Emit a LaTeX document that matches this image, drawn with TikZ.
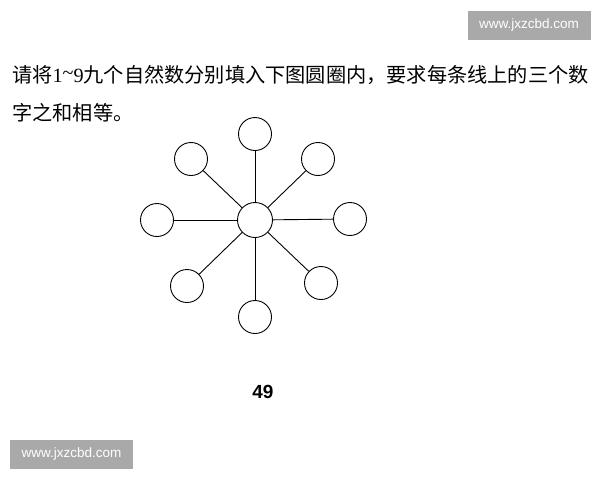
\documentclass[tikz,border=0pt]{standalone}
\usepackage{fontspec}
\setmainfont{Liberation Serif}
\newfontfamily\cjk{Noto Sans CJK SC}
\newfontfamily\wmfont{Liberation Sans}
\definecolor{wmgray}{HTML}{A9A9A9}
\tikzset{
  x=1pt, y=-1pt,
  ring/.style={circle, draw, line width=0.9pt, minimum size=33pt, inner sep=0pt},
  hub/.style={circle, draw, line width=0.9pt, minimum size=35pt, inner sep=0pt},
  spoke/.style={line width=0.9pt},
  wm/.style={fill=wmgray, text=white, font=\wmfont\fontsize{13.5}{15}\selectfont, inner sep=0pt, minimum height=29pt},
}
\begin{document}
\begin{tikzpicture}
\useasboundingbox (0,0) rectangle (600,480);
% watermarks
\node[wm, minimum width=123pt] (wmtop) at (529,25) {www.jxzcbd.com};
\node[wm, minimum width=123pt] (wmbot) at (71.5,454.5) {www.jxzcbd.com};
% question text
\node[anchor=base west, inner sep=0pt, font=\fontsize{20.2}{38}\selectfont] (line1) at (12,82)
  {\cjk 请将{\fontspec{Liberation Serif}1\raisebox{0.1em}{\textasciitilde}9}九个自然数分别填入下图圆圈内，要求每条线上的三个数};
\node[anchor=base west, inner sep=0pt, font=\fontsize{20.2}{38}\selectfont] (line2) at (12,120)
  {\cjk 字之和相等。};
% diagram
\node[hub] (c) at (255,220) {};
\node[ring] (n) at (255,134) {};
\node[ring] (nw) at (191,159) {};
\node[ring] (ne) at (318,159) {};
\node[ring] (w) at (157,220) {};
\node[ring] (e) at (350,219) {};
\node[ring] (sw) at (187,286) {};
\node[ring] (se) at (321,283) {};
\node[ring] (s) at (255,317) {};
\foreach \t in {n,nw,ne,w,e,sw,se,s}{\draw[spoke] (c) -- (\t);}
% page number
\node[font=\wmfont\bfseries\fontsize{19}{21}\selectfont, inner sep=0pt] (page) at (263,391.5) {49};
\end{tikzpicture}
\end{document}
